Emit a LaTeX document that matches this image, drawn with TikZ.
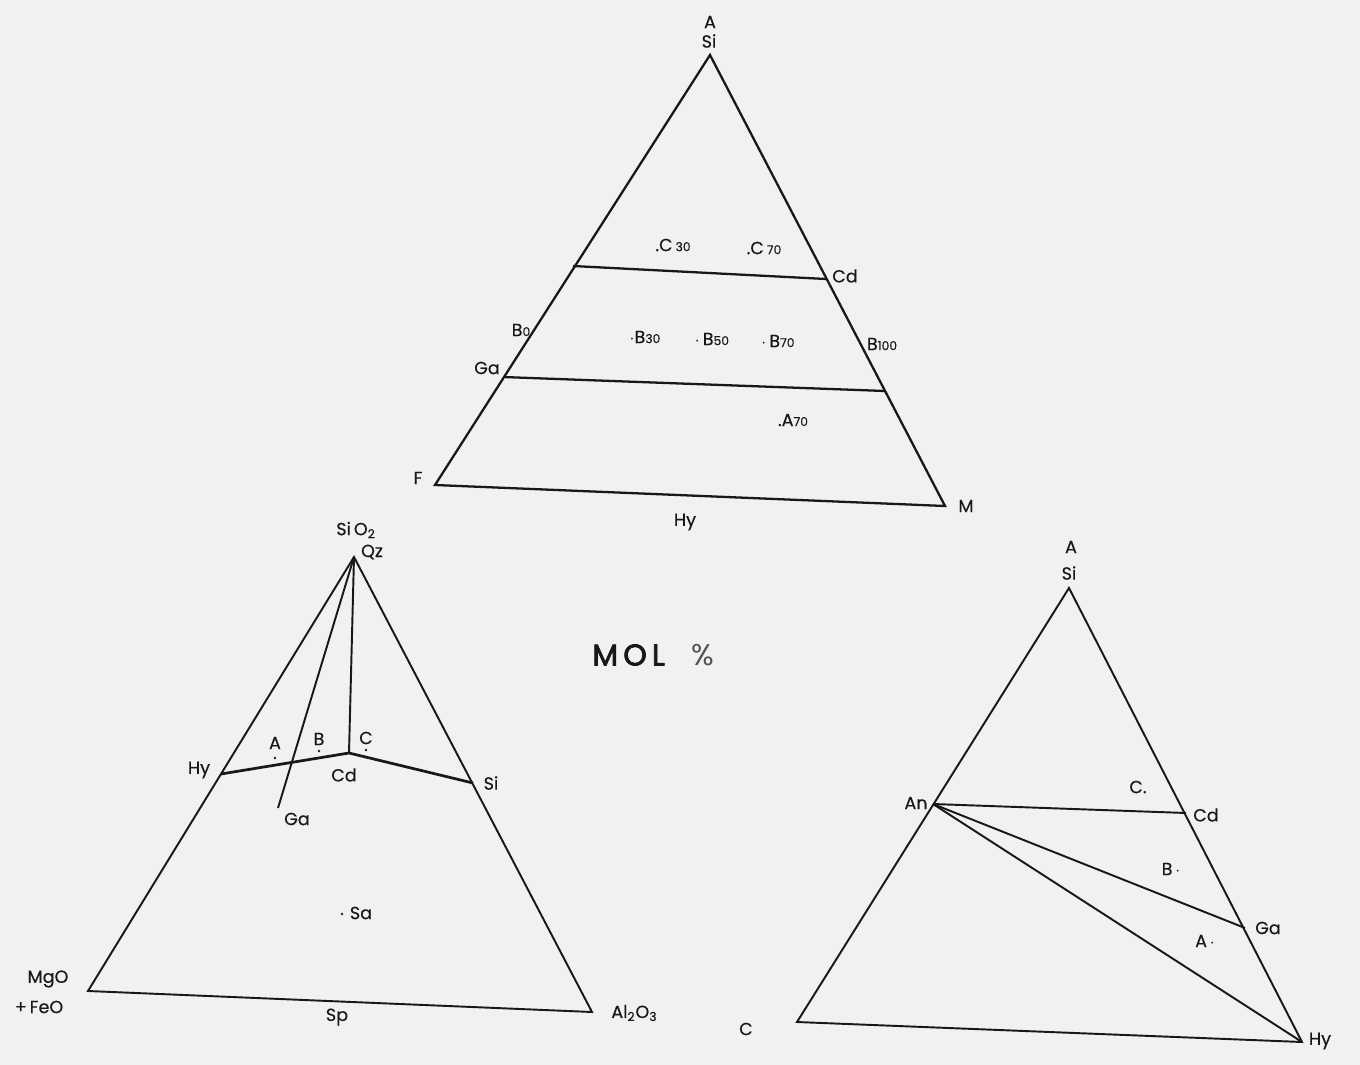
\documentclass[tikz,border=0pt]{standalone}
\usepackage{fontspec}
\setmainfont{Poppins}
\newfontfamily\labfont{Poppins}[FakeBold=0.35]
\newfontfamily\molfont{Poppins}[FakeBold=2.5]
\definecolor{paper}{RGB}{241,241,239}
\definecolor{ink}{RGB}{24,24,24}
\newcommand{\smnum}[1]{{\fontsize{7}{8}\selectfont #1}}
\begin{document}
\begin{tikzpicture}[x=0.02cm,y=-0.02cm,
  lbl/.style={inner sep=0pt, text=ink, font=\labfont\fontsize{10}{12}\selectfont},
  ln/.style={draw=ink, line width=1.3pt},
  thn/.style={draw=ink, line width=1.1pt},
  thk/.style={draw=ink, line width=1.55pt},
  pt/.style={circle, fill=ink, inner sep=0pt, minimum size=1.6pt}]
\fill[paper] (0,0) rectangle (1360,1065);
\useasboundingbox (0,0) rectangle (1360,1065);

% ---------------- top triangle ----------------
\coordinate (tA) at (710,55);
\coordinate (tF) at (435,485);
\coordinate (tM) at (945,506);
\coordinate (tL1) at (573,266);
\coordinate (tCd) at (826,279);
\coordinate (tGa) at (503,377);
\coordinate (tR2) at (885,391);
\draw[ln] (tA) -- (tF) -- (tM) -- cycle;
\draw[ln] (tL1) -- (tCd);
\draw[ln] (tGa) -- (tR2);

\node[lbl] (tlA) at (710,22) {A};
\node[lbl] (tlSi) at (709,41) {Si};
\node[lbl] (tlC30) at (673,245) {.C\,\smnum{30}};
\node[lbl] (tlC70) at (764,248) {.C\,\smnum{70}};
\node[lbl] (tlCd) at (845,276) {Cd};
\node[lbl] (tlB0) at (521,330) {B\smnum{0}};
\node[lbl] (tlGa) at (487,368) {Ga};
\node[lbl] (tlB30) at (645,337) {$\cdot$B\smnum{30}};
\node[lbl] (tlB50) at (712,339) {$\cdot$\,B\smnum{50}};
\node[lbl] (tlB70) at (778,341) {$\cdot$\,B\smnum{70}};
\node[lbl] (tlB100) at (882,344) {B\smnum{100}};
\node[lbl] (tlA70) at (793,420) {.A\smnum{70}};
\node[lbl] (tlF) at (418,478) {F};
\node[lbl] (tlM) at (966,506) {M};
\node[lbl] (tlHy) at (685,522) {Hy};

% ---------------- bottom-left triangle ----------------
\coordinate (lQz) at (354,557);
\coordinate (lMg) at (88,991);
\coordinate (lAl) at (592,1012);
\coordinate (lHy) at (221,774);
\coordinate (lCd) at (349,753);
\coordinate (lSi) at (473,783);
\coordinate (lGa) at (278,808);
\draw[thn] (lQz) -- (lMg) -- (lAl) -- cycle;
\draw[thn] (lQz) -- (lCd);
\draw[thn] (lQz) -- (lGa);
\draw[thk] (lHy) -- (lCd) -- (lSi);

\node[lbl] (llSiO) at (356,530) {Si\,O\textsubscript{2}};
\node[lbl] (llQz) at (372,552) {Qz};
\node[lbl] (llHy) at (199,770) {Hy};
\node[lbl] (llCd) at (344,775) {Cd};
\node[lbl] (llSi) at (491,783) {Si};
\node[lbl] (llGa) at (297,819) {Ga};
\node[lbl] (llA) at (275,743) {A};
\node[pt] (lpA) at (275,758) {};
\node[lbl] (llB) at (319,739) {B};
\node[pt] (lpB) at (319,751) {};
\node[lbl] (llC) at (366,738) {C};
\node[pt] (lpC) at (366,750) {};
\node[pt] (lpSa) at (342,914) {};
\node[lbl] (llSa) at (361,913) {Sa};
\node[lbl] (llMg) at (48,979) {MgO};
\node[lbl] (llFe) at (39,1007) {+\,FeO};
\node[lbl] (llSp) at (337,1017) {Sp};
\node[lbl, anchor=west] (llAl) at (611,1013) {Al\textsubscript{2}O\textsubscript{3}};

\node[inner sep=0pt, anchor=west, text=ink, font=\molfont\fontsize{17}{20}\selectfont] (mol) at (592,655) {M\kern3ptO\kern3ptL\kern15pt{\addfontfeatures{FakeBold=0}\color{ink!75}\%}};

% ---------------- bottom-right triangle ----------------
\coordinate (rA) at (1069,588);
\coordinate (rC) at (797,1022);
\coordinate (rHy) at (1302,1042);
\coordinate (rAn) at (933,804);
\coordinate (rCd) at (1186,813);
\coordinate (rGa) at (1245,928);
\draw[thn] (rA) -- (rC) -- (rHy) -- cycle;
\draw[thn] (rAn) -- (rCd);
\draw[thn] (rAn) -- (rGa);
\draw[thn] (rAn) -- (rHy);

\node[lbl] (rlA) at (1071,547) {A};
\node[lbl] (rlSi) at (1069,573) {Si};
\node[lbl] (rlAn) at (916,803) {An};
\node[lbl] (rlCd) at (1206,815) {Cd};
\node[lbl] (rlC) at (1138,787) {C.};
\node[lbl] (rlB) at (1171,869) {B\,$\cdot$};
\node[lbl] (rlGa) at (1268,928) {Ga};
\node[lbl] (rlAx) at (1205,941) {A\,$\cdot$};
\node[lbl] (rlCc) at (746,1029) {C};
\node[lbl] (rlHy) at (1320,1041) {Hy};
\end{tikzpicture}
\end{document}
